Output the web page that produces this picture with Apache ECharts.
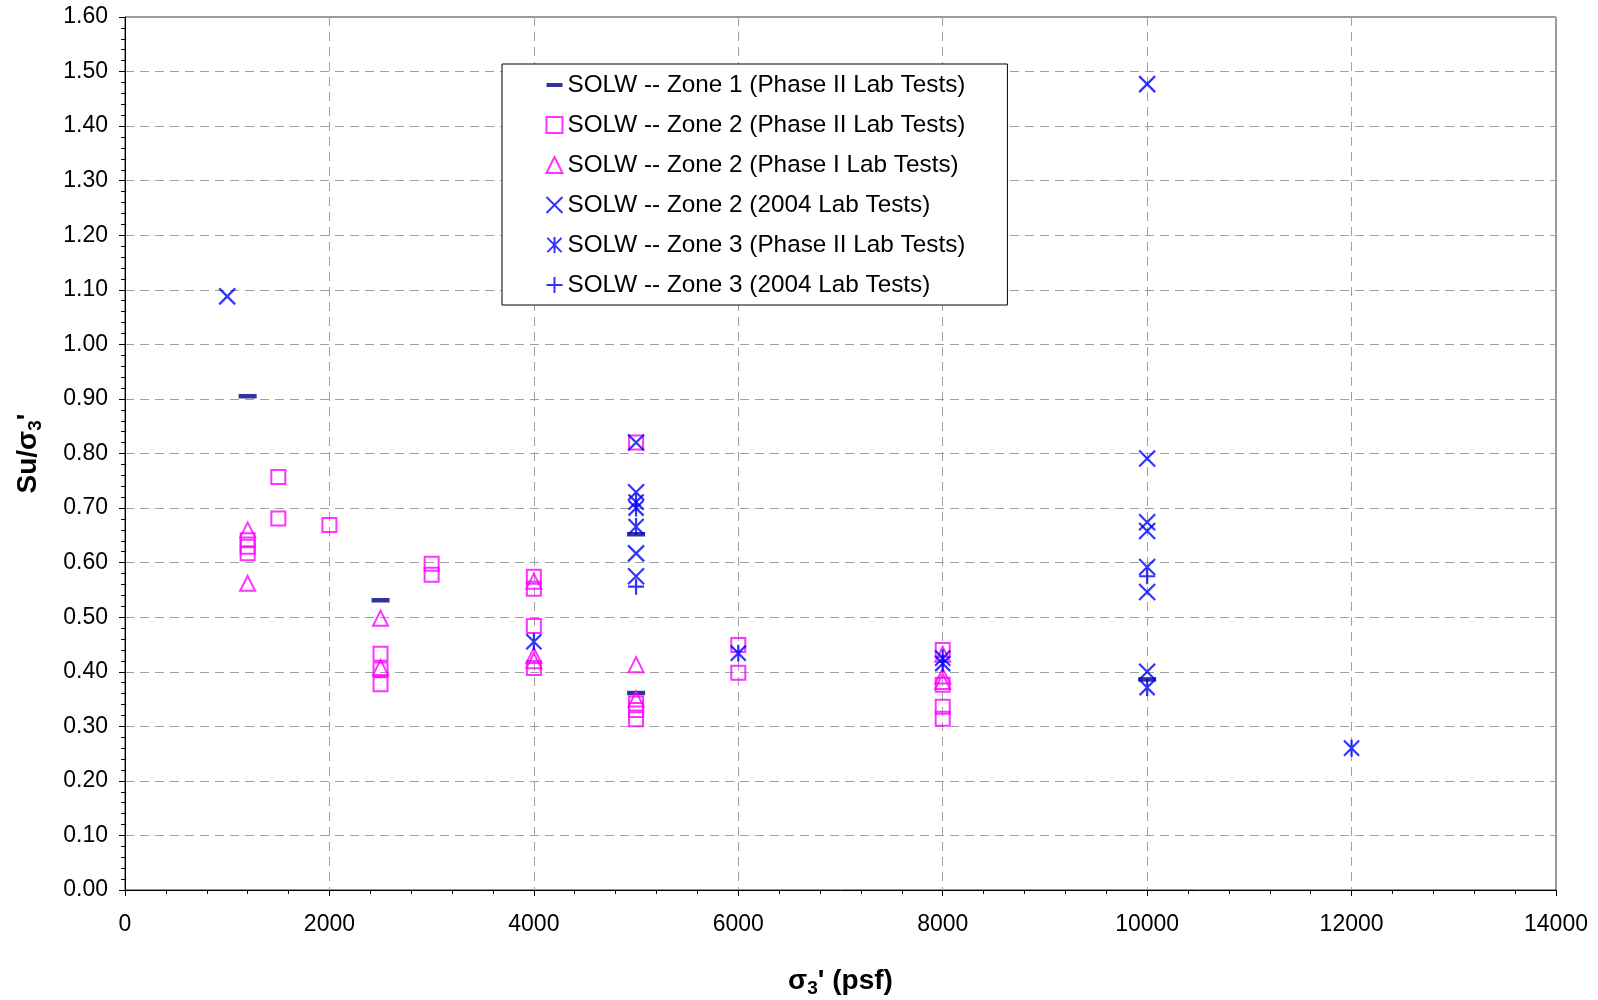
<!DOCTYPE html>
<html>
<head>
<meta charset="utf-8">
<script src="https://cdn.jsdelivr.net/npm/echarts@6/dist/echarts.min.js"></script>
<style>
  html, body { margin: 0; padding: 0; background: #fff; }
  #chart { width: 1598px; height: 1000px; }
</style>
</head>
<body>
<div id="chart"></div>
<script>
// Su/σ3' ratio vs effective confining stress σ3' (psf), [stress, ratio]
const zone1PhaseII = [[1200, 0.905], [2500, 0.531], [5000, 0.652], [5000, 0.361], [10000, 0.386]];
const zone2PhaseII = [
  [1200, 0.641], [1200, 0.629], [1200, 0.617], [1500, 0.757], [1500, 0.681], [2000, 0.669],
  [2500, 0.433], [2500, 0.404], [2500, 0.377], [3000, 0.598], [3000, 0.578],
  [4000, 0.574], [4000, 0.552], [4000, 0.484], [4000, 0.407],
  [5000, 0.820], [5000, 0.342], [5000, 0.330], [5000, 0.313],
  [6000, 0.449], [6000, 0.398],
  [8000, 0.440], [8000, 0.376], [8000, 0.336], [8000, 0.314]
];
const zone2PhaseI = [
  [1200, 0.660], [1200, 0.562], [2500, 0.498], [2500, 0.408],
  [4000, 0.566], [4000, 0.430], [4000, 0.420],
  [5000, 0.413], [5000, 0.350],
  [8000, 0.432], [8000, 0.392], [8000, 0.382]
];
const zone2Tests2004 = [
  [1000, 1.088], [5000, 0.820], [5000, 0.729], [5000, 0.617], [5000, 0.575],
  [10000, 1.477], [10000, 0.791], [10000, 0.674], [10000, 0.658], [10000, 0.592], [10000, 0.546], [10000, 0.400]
];
const zone3PhaseII = [
  [4000, 0.455], [5000, 0.711], [5000, 0.700], [5000, 0.666], [6000, 0.434],
  [8000, 0.425], [8000, 0.415], [10000, 0.371], [12000, 0.260]
];
const zone3Tests2004 = [[5000, 0.556], [10000, 0.575]];

const seriesNames = [
  'SOLW -- Zone 1 (Phase II Lab Tests)',
  'SOLW -- Zone 2 (Phase II Lab Tests)',
  'SOLW -- Zone 2 (Phase I Lab Tests)',
  'SOLW -- Zone 2 (2004 Lab Tests)',
  'SOLW -- Zone 3 (Phase II Lab Tests)',
  'SOLW -- Zone 3 (2004 Lab Tests)'
];

const FONT = '"Liberation Sans", Arial, sans-serif';
const NAVY = '#000080', MAGENTA = '#FF00FF', BLUE = '#0000FF';

const SYM_DASH = 'path://M0,6L18,6L18,10.5L0,10.5Z';
const SYM_X = 'path://M0,0L16,16M16,0L0,16';
const SYM_STAR = 'path://M0,0L16,16M16,0L0,16M8,-1L8,17';
const SYM_PLUS = 'path://M8,0L8,16M0,8L16,8';

function scatter(name, data, symbol, size, style) {
  return {
    name, type: 'scatter', data, symbol, symbolSize: size,
    symbolKeepAspect: true,
    itemStyle: style,
    emphasis: { disabled: true },
    animation: false
  };
}

const titleRich = {
  a: { fontFamily: FONT, fontSize: 28, fontWeight: 'bold', color: '#000' },
  s: { fontFamily: FONT, fontSize: 19, fontWeight: 'bold', color: '#000', padding: [14, 0, 0, 0] }
};

const chart = echarts.init(document.getElementById('chart'));
chart.setOption({
  backgroundColor: '#fff',
  animation: false,
  grid: {
    left: 125, right: 42, top: 17, bottom: 110,
    outerBoundsMode: 'none', containLabel: false,
    show: true, borderColor: '#333', borderWidth: 1
  },
  legend: {
    orient: 'vertical',
    left: 502, top: 64,
    backgroundColor: '#fff',
    borderColor: '#000', borderWidth: 1, borderRadius: 0,
    padding: [9, 42, 8, 42],
    itemWidth: 16, itemHeight: 16, itemGap: 16,
    textStyle: { fontFamily: FONT, fontSize: 24.3, color: '#000' },
    data: seriesNames
  },
  xAxis: {
    type: 'value', min: 0, max: 14000, interval: 2000,
    name: '{a|σ}{s|3}{a|\' (psf)}',
    nameLocation: 'middle', nameGap: 75,
    nameTextStyle: { rich: titleRich },
    axisLine: { show: true, onZero: false, lineStyle: { color: '#000', width: 1 } },
    axisTick: { show: true, inside: false, length: 6, lineStyle: { color: '#000' } },
    minorTick: { show: true, splitNumber: 5, length: 4, lineStyle: { color: '#000' } },
    axisLabel: { fontFamily: FONT, fontSize: 23, color: '#000', margin: 23, formatter: v => String(v) },
    splitLine: { show: true, lineStyle: { color: '#A0A0A0', type: [9, 6], width: 1 } }
  },
  yAxis: {
    type: 'value', min: 0, max: 1.6, interval: 0.1,
    name: '{a|Su/σ}{s|3}{a|\'}',
    nameLocation: 'middle', nameGap: 80, nameRotate: 90,
    nameTextStyle: { rich: titleRich },
    axisLine: { show: true, onZero: false, lineStyle: { color: '#000', width: 1 } },
    axisTick: { show: true, inside: false, length: 6, lineStyle: { color: '#000' } },
    minorTick: { show: true, splitNumber: 5, length: 4, lineStyle: { color: '#000' } },
    axisLabel: { fontFamily: FONT, fontSize: 23, color: '#000', margin: 17, formatter: v => v.toFixed(2) },
    splitLine: { show: true, lineStyle: { color: '#A0A0A0', type: [9, 6], width: 1 } }
  },
  series: [
    scatter(seriesNames[0], zone1PhaseII, SYM_DASH, 18, { color: NAVY, borderWidth: 0 }),
    scatter(seriesNames[1], zone2PhaseII, 'rect', 14, { color: 'none', borderColor: MAGENTA, borderWidth: 2 }),
    scatter(seriesNames[2], zone2PhaseI, 'triangle', 15, { color: 'none', borderColor: MAGENTA, borderWidth: 2 }),
    scatter(seriesNames[3], zone2Tests2004, SYM_X, 16, { color: 'none', borderColor: BLUE, borderWidth: 2.2 }),
    scatter(seriesNames[4], zone3PhaseII, SYM_STAR, 17, { color: 'none', borderColor: BLUE, borderWidth: 2.2 }),
    scatter(seriesNames[5], zone3Tests2004, SYM_PLUS, 16, { color: 'none', borderColor: BLUE, borderWidth: 2.2 })
  ]
});
</script>
</body>
</html>
